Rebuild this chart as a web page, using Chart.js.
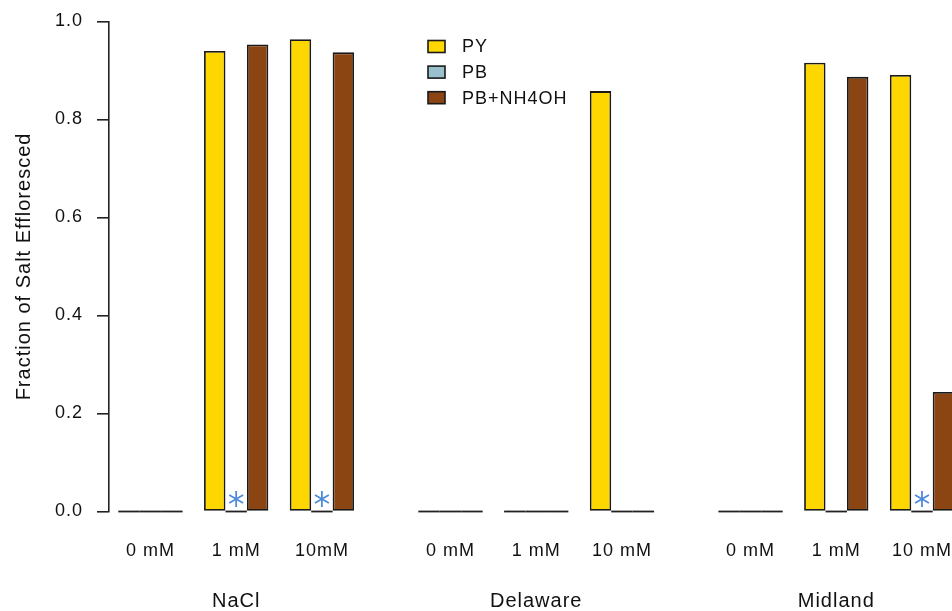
<!DOCTYPE html>
<html>
<head>
<meta charset="utf-8">
<script src="https://cdn.jsdelivr.net/npm/chart.js@4/dist/chart.umd.min.js"></script>
<style>
  html, body { margin: 0; padding: 0; background: #fff; overflow: hidden; width: 952px; height: 611px; }
  #wrap { width: 1000px; height: 611px; }
</style>
</head>
<body>
<div id="wrap"><canvas id="c" width="1000" height="611"></canvas></div>
<script>
// ---- Data ----
const sites = ['NaCl', 'Delaware', 'Midland'];
const concLabels = ['0 mM', '1 mM', '10mM', '0 mM', '1 mM', '10 mM', '0 mM', '1 mM', '10 mM'];
const seriesNames = ['PY', 'PB', 'PB+NH4OH'];
const pyValues = [0, 0.940, 0.964, 0, 0, 0.858, 0, 0.916, 0.891];
const pbValues = [0, 0, 0, 0, 0, 0, 0, 0, 0];
const pbNh4ohValues = [0, 0.953, 0.937, 0, 0, 0, 0, 0.887, 0.244];
const pbMarked = [false, true, true, false, false, false, false, false, true];
const yTickValues = [0, 0.2, 0.4, 0.6, 0.8, 1.0];
const yTitle = 'Fraction of Salt Effloresced';

// ---- Layout (bar-width units) ----
const SLOT = 4;
const SITE = 14;
const X_MIN = -0.434;
const X_MAX = 41.14;
const xOf = i => Math.floor(i / 3) * SITE + (i % 3) * SLOT + 1.5;
const tripleCenters = concLabels.map((_, i) => xOf(i));
const siteCenters = sites.map((_, g) => xOf(g * 3 + 1));

const colors = ['#FFD700', '#9AC0CD', '#8B4513'];
const FONT = "'Liberation Sans', Arial, sans-serif";
Chart.defaults.font.family = FONT;
Chart.defaults.font.size = 18;
Chart.defaults.color = '#111';

const mk = (vals, k) => ({
  label: seriesNames[k],
  data: vals.map((v, i) => ({ x: tripleCenters[i], y: v })),
  backgroundColor: colors[k],
  borderColor: '#1a1a1a',
  borderWidth: 1.8,
  borderSkipped: false,
  categoryPercentage: 0.75,
  barPercentage: 1.0
});

const spacing = {
  id: 'spacing',
  beforeLayout(chart) { chart.ctx.letterSpacing = '1px'; },
  beforeDraw(chart) { chart.ctx.letterSpacing = '1px'; }
};

const zeroLines = {
  id: 'zeroLines',
  afterDatasetsDraw(chart) {
    const ctx = chart.ctx;
    ctx.save();
    ctx.strokeStyle = '#222';
    ctx.lineWidth = 1.8;
    chart.data.datasets.forEach((ds, d) => {
      const meta = chart.getDatasetMeta(d);
      meta.data.forEach((el, i) => {
        if (ds.data[i].y === 0) {
          const p = el.getProps(['x', 'width', 'base'], true);
          ctx.beginPath();
          ctx.moveTo(p.x - p.width / 2, p.base);
          ctx.lineTo(p.x + p.width / 2, p.base);
          ctx.stroke();
        }
      });
    });
    const meta = chart.getDatasetMeta(1);
    ctx.strokeStyle = '#4F8BDB';
    ctx.lineWidth = 1.8;
    meta.data.forEach((el, i) => {
      if (!pbMarked[i]) return;
      const p = el.getProps(['x', 'base'], true);
      const cx = p.x, cy = p.base - 12.5, r = 8;
      ctx.beginPath();
      for (let a = 0; a < 3; a++) {
        const ang = Math.PI / 2 + a * Math.PI / 3;
        ctx.moveTo(cx + r * Math.cos(ang), cy + r * Math.sin(ang));
        ctx.lineTo(cx - r * Math.cos(ang), cy - r * Math.sin(ang));
      }
      ctx.stroke();
    });
    ctx.restore();
  }
};

const customLegend = {
  id: 'customLegend',
  afterDraw(chart) {
    const ctx = chart.ctx;
    ctx.save();
    ctx.letterSpacing = '1px';
    ctx.font = '18px ' + FONT;
    ctx.textBaseline = 'middle';
    ctx.textAlign = 'left';
    chart.data.datasets.forEach((ds, k) => {
      const cy = 46.5 + k * 25.6;
      ctx.fillStyle = ds.backgroundColor;
      ctx.fillRect(428, cy - 6, 17, 12);
      ctx.strokeStyle = '#1a1a1a';
      ctx.lineWidth = 1.6;
      ctx.strokeRect(428, cy - 6, 17, 12);
      ctx.fillStyle = '#111';
      ctx.fillText(ds.label, 462, cy + 1);
    });
    ctx.restore();
  }
};

const hiddenTicks = len => ({ display: true, drawOnChartArea: false, drawTicks: true, tickLength: len, color: 'rgba(0,0,0,0)' });
const noPad = s => { s.paddingTop = 0; s.paddingBottom = 0; };

new Chart(document.getElementById('c'), {
  type: 'bar',
  data: {
    datasets: [mk(pyValues, 0), mk(pbValues, 1), mk(pbNh4ohValues, 2)]
  },
  options: {
    responsive: false,
    animation: false,
    devicePixelRatio: 1,
    layout: { padding: { top: 21.5, left: 0, right: 0, bottom: 0 } },
    plugins: { legend: { display: false }, tooltip: { enabled: false } },
    scales: {
      x: {
        type: 'linear', position: 'bottom', weight: 0, offset: false,
        min: X_MIN, max: X_MAX,
        afterBuildTicks: s => { s.ticks = tripleCenters.map(v => ({ value: v })); },
        afterFit: s => { s.height = 50; noPad(s); },
        grid: hiddenTicks(29),
        border: { display: false },
        ticks: { autoSkip: false, maxRotation: 0, padding: 0, color: '#111',
          font: { size: 18 },
          callback: (v, i) => concLabels[i] }
      },
      x2: {
        type: 'linear', position: 'bottom', weight: 1, offset: false,
        min: X_MIN, max: X_MAX,
        afterBuildTicks: s => { s.ticks = siteCenters.map(v => ({ value: v })); },
        afterFit: s => { s.height = 49.5; noPad(s); },
        grid: hiddenTicks(28),
        border: { display: false },
        ticks: { autoSkip: false, maxRotation: 0, padding: 0, color: '#111',
          font: { size: 20 },
          callback: (v, i) => sites[i] }
      },
      y: {
        min: 0, max: 1,
        afterBuildTicks: s => { s.ticks = yTickValues.map(v => ({ value: v })); },
        afterFit: s => { s.width = 109; noPad(s); },
        border: { display: true, color: '#222', width: 1.6 },
        grid: { drawOnChartArea: false, drawTicks: true, tickLength: 12, color: '#222', lineWidth: 1.6 },
        ticks: { padding: 14, color: '#111', font: { size: 18 }, callback: v => v.toFixed(1) },
        title: { display: true, text: yTitle, color: '#111', font: { size: 20 }, padding: { top: 12, bottom: 0 } }
      }
    }
  },
  plugins: [spacing, zeroLines, customLegend]
});
</script>
</body>
</html>
